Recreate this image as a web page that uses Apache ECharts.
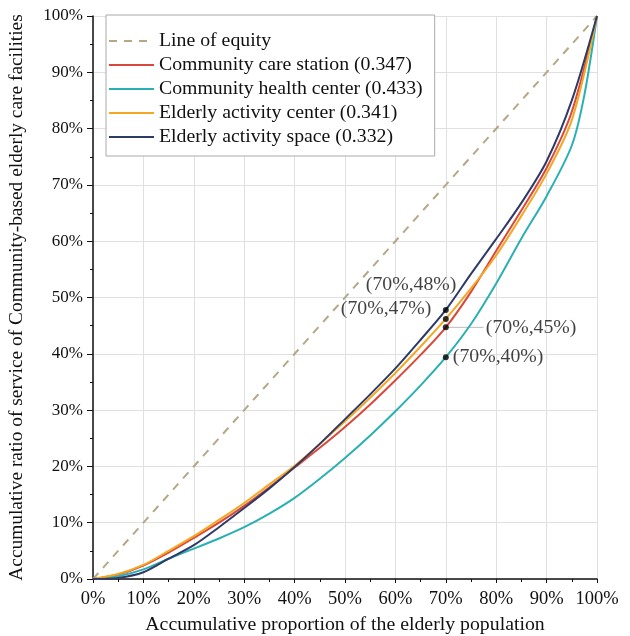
<!DOCTYPE html>
<html>
<head>
<meta charset="utf-8">
<script src="https://cdn.jsdelivr.net/npm/echarts@6/dist/echarts.min.js"></script>
<style>
html, body { margin: 0; padding: 0; background: #fff; }
#chart { width: 630px; height: 636px; }
</style>
</head>
<body>
<div id="chart"></div>
<script>
// accumulative proportion of elderly population (%)
const xPop = [0, 5, 10, 15, 20, 25, 30, 35, 40, 45, 50, 55, 60, 65, 70, 75, 80, 85, 90, 95, 100];
const xTeal = [0, 5, 10, 15, 20, 25, 30, 35, 40, 45, 50, 55, 60, 65, 70, 75, 80, 85, 90, 95, 97.5, 100];

const careStation   = [0, 0.8, 2.4, 4.7, 7.3, 10, 13, 16.3, 19.8, 23.3, 27, 31, 35.3, 39.8, 44.7, 51, 58.3, 65.5, 73, 83, 100];
const healthCenter  = [0, 0.5, 1.7, 3.6, 5.4, 7.2, 9.2, 11.6, 14.4, 17.8, 21.5, 25.5, 29.8, 34.4, 39.4, 45.3, 52.5, 60.5, 68, 77, 86, 100];
const activityCtr   = [0, 0.9, 2.5, 5, 7.6, 10.5, 13.5, 16.8, 20.1, 24, 28, 32.2, 36.6, 41.3, 46.2, 51.6, 57.5, 64.5, 72, 81.5, 100];
const activitySpace = [0, 0.2, 1.2, 3.6, 6, 9.2, 12.6, 16.1, 19.9, 24, 28.4, 32.8, 37.4, 42.5, 47.8, 54.2, 60.4, 66.8, 74.2, 85, 100];

const seriesNames = ['Community care station (0.347)', 'Community health center (0.433)', 'Elderly activity center (0.341)', 'Elderly activity space (0.332)'];
const seriesColors = ['#d9483b', '#2bb0b2', '#f5a623', '#2e3a68'];

const markedPoints = [[70, 47.8], [70, 46.2], [70, 44.7], [70, 39.4]];
const markedLabels = ['(70%,48%)', '(70%,47%)', '(70%,45%)', '(70%,40%)'];
const leaderLine = [[70, 44.7], [77.5, 44.7]];

const pair = (xs, ys) => xs.map((x, i) => [x, ys[i]]);

const font = '"Liberation Serif", "Times New Roman", serif';
const labelOffsets = [[-88, -25], [-113, -10], [32, 0], [-1, 0]];

let chart = echarts.init(document.getElementById('chart'));

let curves = [careStation, healthCenter, activityCtr, activitySpace].map((ys, i) => {
    return {
        name: seriesNames[i], type: 'line', symbol: 'none', smooth: 0.3,
        lineStyle: { color: seriesColors[i], width: 2 },
        itemStyle: { color: seriesColors[i] },
        data: pair(i === 1 ? xTeal : xPop, ys),
        z: 3
    };
});

let option = {
    animation: false,
    textStyle: { fontFamily: font },
    legend: {
        orient: 'vertical',
        left: 106,
        top: 15,
        backgroundColor: '#fff',
        borderColor: '#aaa',
        borderWidth: 1,
        padding: [16, 12, 9, 2],
        itemWidth: 45,
        itemHeight: 10,
        itemGap: 4,
        itemStyle: { opacity: 0 },
        textStyle: { fontFamily: font, fontSize: 19.8, lineHeight: 20, color: '#111' },
        data: ['Line of equity'].concat(seriesNames)
    },
    grid: { left: 93, right: 33, top: 16, bottom: 57, containLabel: false, outerBoundsMode: 'none' },
    xAxis: {
        type: 'value', min: 0, max: 100, interval: 10,
        name: 'Accumulative proportion of the elderly population',
        nameLocation: 'middle', nameGap: 36,
        nameTextStyle: { fontFamily: font, fontSize: 19.8, color: '#111' },
        axisLine: { show: true, lineStyle: { color: '#111', width: 1.5 } },
        axisTick: { show: true, length: 4, lineStyle: { color: '#111' } },
        minorTick: { show: true, splitNumber: 2, length: 3, lineStyle: { color: '#111' } },
        axisLabel: { formatter: '{value}%', fontFamily: font, fontSize: 18.5, color: '#111', margin: 11 },
        splitLine: { show: true, lineStyle: { color: '#e0e0e0' } }
    },
    yAxis: {
        type: 'value', min: 0, max: 100, interval: 10,
        name: 'Accumulative ratio of service of Community-based elderly care facilities',
        nameLocation: 'middle', nameGap: 67,
        nameTextStyle: { fontFamily: font, fontSize: 19.4, color: '#111' },
        axisLine: { show: true, lineStyle: { color: '#111', width: 1.5 } },
        axisTick: { show: true, length: 6, lineStyle: { color: '#111' } },
        minorTick: { show: true, splitNumber: 2, length: 3, lineStyle: { color: '#111' } },
        axisLabel: { formatter: '{value}%', fontFamily: font, fontSize: 17, color: '#111', margin: 10 },
        splitLine: { show: true, lineStyle: { color: '#e0e0e0' } }
    },
    series: [
        {
            name: 'Line of equity', type: 'line', symbol: 'none',
            lineStyle: { color: '#b5a887', width: 2, type: [8, 7] },
            itemStyle: { color: '#b5a887' },
            data: [[0, 0], [100, 100]],
            z: 2
        }
    ].concat(curves).concat([
        {
            name: 'leader', type: 'line', symbol: 'none', silent: true,
            lineStyle: { color: '#bbb', width: 1 },
            data: leaderLine, z: 2
        },
        {
            name: 'points', type: 'scatter', symbolSize: 6,
            itemStyle: { color: '#000' },
            data: markedPoints.map((p, i) => ({
                value: p,
                label: {
                    show: true, position: 'right', offset: labelOffsets[i],
                    formatter: markedLabels[i],
                    fontFamily: font, fontSize: 19.8, color: '#111'
                }
            })),
            z: 5
        }
    ])
};

chart.setOption(option);
</script>
</body>
</html>
